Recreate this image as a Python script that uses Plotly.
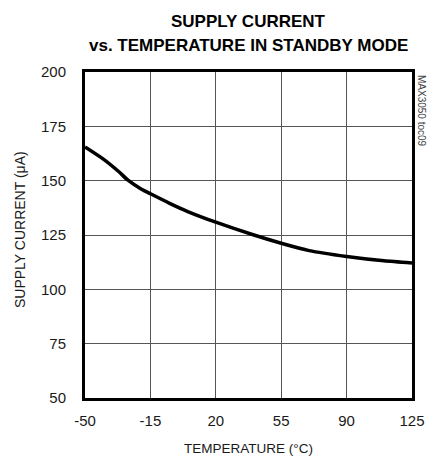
import plotly.graph_objects as go

temperature = [-50, -40, -32, -27, -20, -15, -5, 5, 20, 40, 55, 70, 90, 110, 125]
supply_current = [165.5, 159.8, 154.2, 150.2, 146.2, 144.0, 139.7, 135.8, 130.9, 125.1, 121.2, 117.8, 115.1, 113.1, 112.1]
x_ticks = [-50, -15, 20, 55, 90, 125]
x_tick_labels = ["-50", "-15", "20", "55", "90", "125"]
y_ticks = [50, 75, 100, 125, 150, 175, 200]

FONT = "Liberation Sans, Arial, sans-serif"
TXT = "#1a1a1a"

fig = go.Figure()
fig.add_trace(go.Scatter(x=temperature, y=supply_current, mode="lines",
                         line=dict(color="black", width=3.5, shape="spline", smoothing=0.6),
                         hoverinfo="skip", showlegend=False))

fig.update_layout(
    width=437, height=456,
    margin=dict(l=85, r=25, t=72, b=58),
    paper_bgcolor="white", plot_bgcolor="white",
    font=dict(family=FONT, color=TXT),
    xaxis=dict(range=[-50, 125], tickvals=x_ticks, ticktext=x_tick_labels,
               showgrid=True, gridcolor="#555", gridwidth=1,
               showline=True, linecolor="black", linewidth=3, mirror=True, ticks="",
               zeroline=False, tickfont=dict(size=15, color=TXT), ticklabelstandoff=7),
    yaxis=dict(range=[50, 200], tickvals=y_ticks, showgrid=True, gridcolor="#555", gridwidth=1,
               showline=True, linecolor="black", linewidth=3, mirror=True, ticks="",
               zeroline=False, tickfont=dict(size=15, color=TXT), ticklabelstandoff=13),
)

# titles
fig.add_annotation(text="<b>SUPPLY CURRENT</b>", xref="paper", yref="paper", x=0.5, y=1,
                   xanchor="center", yanchor="middle", yshift=50.5, showarrow=False,
                   font=dict(family=FONT, size=17, color="black"))
fig.add_annotation(text="<b>vs. TEMPERATURE IN STANDBY MODE</b>", xref="paper", yref="paper",
                   x=0.5, y=1, xanchor="center", yanchor="middle", yshift=27, showarrow=False,
                   font=dict(family=FONT, size=17, color="black"))
# axis titles
fig.add_annotation(text="TEMPERATURE (°C)", xref="paper", yref="paper", x=0.5, y=0,
                   xanchor="center", yanchor="middle", yshift=-50, showarrow=False,
                   font=dict(family=FONT, size=13.5, color=TXT))
fig.add_annotation(text="SUPPLY CURRENT (μA)", xref="paper", yref="paper", x=0, y=0.5,
                   xanchor="center", yanchor="middle", xshift=-65, yshift=5, textangle=-90,
                   showarrow=False, font=dict(family=FONT, size=14, color=TXT))
# side label
fig.add_annotation(text="MAX3050 toc09", xref="paper", yref="paper", x=1.0, y=1.0,
                   xanchor="center", yanchor="top", xshift=10, yshift=-1, textangle=90,
                   showarrow=False, font=dict(family=FONT, size=10, color="#444"))

fig.write_html("out.html", config={"displayModeBar": False},
               post_script="document.body.style.margin='0';document.body.style.overflow='hidden';")
